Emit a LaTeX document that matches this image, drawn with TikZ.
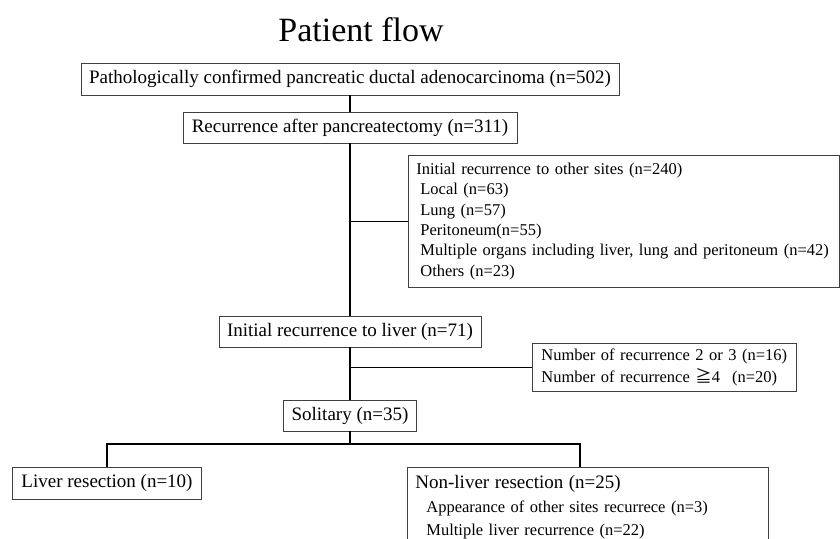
\documentclass[tikz,border=0pt]{standalone}
\usepackage{fontspec}
\setmainfont{Liberation Serif}
\newfontfamily\cjkjp{Noto Sans CJK JP}
\begin{document}
\begin{tikzpicture}[x=1pt,y=-1pt,
  box/.style={draw=black!75, line width=0.8pt, inner sep=0pt, font=\fontsize{19}{23}\selectfont},
  listbox/.style={draw=black!75, line width=0.8pt, inner ysep=0pt, align=left},
  conn/.style={line width=1.4pt, black}]
\useasboundingbox (0,0) rectangle (840,538);
\clip (0,0) rectangle (840,538);
\node[anchor=base, font=\fontsize{34}{40}\selectfont] (title) at (361,41) {Patient flow};
\node[box, minimum width=538pt, minimum height=32pt] (b1) at (350,79) {Pathologically confirmed pancreatic ductal adenocarcinoma (n=502)};
\node[box, minimum width=334pt, minimum height=31pt] (b2) at (350,127.5) {Recurrence after pancreatectomy (n=311)};
\node[listbox, anchor=north west, text width=419pt, inner xsep=6pt, minimum height=132pt, font=\fontsize{16.5}{20.3}\selectfont] (b3) at (408,155) {\hspace*{2pt}Initial recurrence to other sites (n=240)\\
\hspace*{6pt}Local (n=63)\\
\hspace*{6pt}Lung (n=57)\\
\hspace*{6pt}Peritoneum(n=55)\\
\hspace*{6pt}Multiple organs including liver, lung and peritoneum (n=42)\\
\hspace*{6pt}Others (n=23)};
\node[box, minimum width=262pt, minimum height=31pt] (b4) at (350,331.5) {Initial recurrence to liver (n=71)};
\node[listbox, anchor=north west, text width=256pt, inner xsep=4pt, minimum height=48pt, font=\fontsize{16.5}{21.5}\selectfont] (b5) at (532,343) {\hspace*{5pt}Number of recurrence 2 or 3 (n=16)\\
\hspace*{5pt}Number of recurrence {\cjkjp ≧}4\hspace{12pt}(n=20)};
\node[box, minimum width=133pt, minimum height=31pt] (b6) at (350,415.5) {Solitary (n=35)};
\node[box, minimum width=189pt, minimum height=32pt] (b7) at (107,483) {Liver resection (n=10)};
\node[listbox, anchor=north west, text width=345pt, inner xsep=8pt, minimum height=80pt, font=\fontsize{16.5}{23.5}\selectfont] (b8) at (407,467) {{\fontsize{19}{23.5}\selectfont Non-liver resection (n=25)}\\
\hspace*{11pt}Appearance of other sites recurrece (n=3)\\
\hspace*{11pt}Multiple liver recurrence (n=22)};
\coordinate (j8) at (580,444);
\draw[conn] (b1.south) -- (b2.north);
\draw[conn] (b2.south) -- (b2.south |- b4.north);
\draw[conn] (b2.south |- b3.west) -- (b3.west);
\draw[conn] (b4.south) -- (b4.south |- b6.north);
\draw[conn] (b4.south |- b5.west) -- (b5.west);
\draw[conn] (b6.south) -- (b6.south |- j8);
\draw[conn] (b7.north) |- (j8) -- (j8 |- b8.north);
\end{tikzpicture}
\end{document}
